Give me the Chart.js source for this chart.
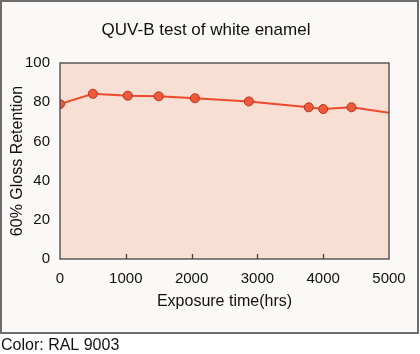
<!DOCTYPE html>
<html><head><meta charset="utf-8">
<script src="https://cdn.jsdelivr.net/npm/chart.js@4.4.1/dist/chart.umd.min.js"></script>
<style>html,body{margin:0;padding:0;background:#fff;}#wrap{width:420px;height:354px;}</style>
</head><body><div id="wrap"><canvas id="c" width="420" height="354"></canvas></div>
<script>
const hours = [0, 500, 1030, 1500, 2050, 2870, 3780, 4000, 4430, 5000];
const gloss = [79, 84.3, 83.3, 83.0, 82.0, 80.4, 77.4, 76.5, 77.4, 74.6];
const markerShown = [true, true, true, true, true, true, true, true, true, false];
const xTicks = [0, 1000, 2000, 3000, 4000, 5000];
const yTicks = [0, 20, 40, 60, 80, 100];
const chartTitle = 'QUV-B test of white enamel';
const xTitle = 'Exposure time(hrs)';
const yTitle = '60% Gloss Retention';
const caption = 'Color: RAL 9003';

const FONT = 'Liberation Sans, Arial, sans-serif';

const decor = {
  id: 'decor',
  beforeDraw(chart) {
    const ctx = chart.ctx;
    const a = chart.chartArea;
    ctx.save();
    ctx.fillStyle = '#ffffff';
    ctx.fillRect(0, 0, 420, 354);
    ctx.fillStyle = '#faf9f7';
    ctx.fillRect(0, 0, 419, 333);
    ctx.strokeStyle = '#6e6e6e';
    ctx.lineWidth = 2;
    ctx.strokeRect(1, 1, 417, 332);
    ctx.fillStyle = '#f7dfd4';
    ctx.fillRect(a.left, a.top, a.right - a.left, a.bottom - a.top);
    ctx.fillStyle = '#111';
    ctx.font = '17px ' + FONT;
    ctx.textAlign = 'center';
    ctx.textBaseline = 'middle';
    ctx.fillText(chartTitle, 206, 30);
    ctx.font = '16px ' + FONT;
    ctx.textAlign = 'left';
    ctx.fillText(caption, 1, 346);
    ctx.restore();
  },
  afterDatasetsDraw(chart) {
    const ctx = chart.ctx;
    const a = chart.chartArea;
    const xs = chart.scales.x;
    ctx.save();
    ctx.strokeStyle = '#444';
    ctx.lineWidth = 1.3;
    ctx.strokeRect(a.left, a.top, a.right - a.left, a.bottom - a.top);
    ctx.beginPath();
    xTicks.slice(1, -1).forEach(v => {
      const px = Math.round(xs.getPixelForValue(v)) + 0.5;
      ctx.moveTo(px, a.bottom);
      ctx.lineTo(px, a.bottom - 5);
    });
    ctx.stroke();
    ctx.restore();
  }
};

new Chart(document.getElementById('c'), {
  type: 'line',
  data: {
    datasets: [{
      data: hours.map((h, i) => ({x: h, y: gloss[i]})),
      borderColor: '#ec4a2b',
      borderWidth: 2,
      pointRadius: markerShown.map(s => s ? 4.5 : 0),
      pointBackgroundColor: '#ef5a3a',
      pointBorderColor: '#c22e18',
      pointBorderWidth: 1,
      tension: 0
    }]
  },
  options: {
    responsive: false,
    animation: false,
    events: [],
    layout: {padding: {top: 63, left: 8, right: 31, bottom: 43}},
    plugins: {legend: {display: false}, tooltip: {enabled: false}, title: {display: false}},
    scales: {
      x: {
        type: 'linear', min: 0, max: 5000,
        afterBuildTicks: s => { s.ticks = xTicks.map(v => ({value: v})); },
        afterFit: s => { s.height = 52; },
        grid: {display: false, drawTicks: false},
        border: {display: false},
        ticks: {padding: 11, color: '#111', font: {family: FONT, size: 15}, maxRotation: 0, callback: v => String(v)},
        title: {display: true, text: xTitle, color: '#111', padding: 0, font: {family: FONT, size: 16}}
      },
      y: {
        min: 0, max: 100,
        afterBuildTicks: s => { s.ticks = yTicks.map(v => ({value: v})); },
        afterFit: s => { s.width = 52; },
        grid: {display: false, drawTicks: false},
        border: {display: false},
        ticks: {padding: 10, color: '#111', font: {family: FONT, size: 15}, callback: v => String(v)},
        title: {display: true, text: yTitle, color: '#111', padding: 0, font: {family: FONT, size: 16}}
      }
    }
  },
  plugins: [decor]
});
</script></body></html>
